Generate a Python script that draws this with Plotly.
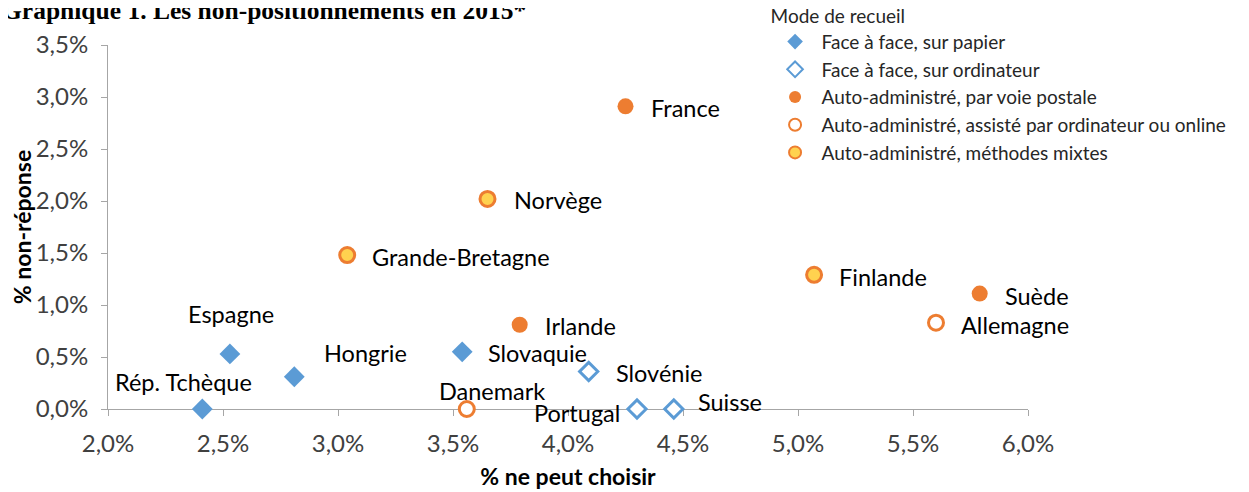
import plotly.graph_objects as go

# ---- data ----
countries = ["France", "Norvège", "Grande-Bretagne", "Finlande", "Suède", "Allemagne",
             "Irlande", "Espagne", "Hongrie", "Slovaquie", "Rép. Tchèque", "Danemark",
             "Slovénie", "Portugal", "Suisse"]
ne_peut_choisir = [4.25, 3.65, 3.04, 5.07, 5.79, 5.60, 3.79, 2.53, 2.81, 3.54, 2.41, 3.56, 4.09, 4.30, 4.46]
non_reponse = [2.91, 2.02, 1.48, 1.29, 1.11, 0.83, 0.81, 0.53, 0.31, 0.55, 0.0, 0.0, 0.36, 0.0, 0.0]
mode = ["postal", "mixte", "mixte", "mixte", "postal", "online", "postal", "papier", "papier",
        "papier", "papier", "online", "ordinateur", "ordinateur", "ordinateur"]

mode_order = ["papier", "ordinateur", "postal", "online", "mixte"]
mode_labels = {
    "papier": "Face à face, sur papier",
    "ordinateur": "Face à face, sur ordinateur",
    "postal": "Auto-administré, par voie postale",
    "online": "Auto-administré, assisté par ordinateur ou online",
    "mixte": "Auto-administré, méthodes mixtes",
}

x_tickvals = [2.0, 2.5, 3.0, 3.5, 4.0, 4.5, 5.0, 5.5, 6.0]
x_ticktext = ["2,0%", "2,5%", "3,0%", "3,5%", "4,0%", "4,5%", "5,0%", "5,5%", "6,0%"]
y_tickvals = [0.0, 0.5, 1.0, 1.5, 2.0, 2.5, 3.0, 3.5]
y_ticktext = ["0,0%", "0,5%", "1,0%", "1,5%", "2,0%", "2,5%", "3,0%", "3,5%"]

# ---- styles ----
BLUE = "#5B9BD5"
ORANGE = "#ED7D31"
YELLOW = "#FFD24F"
FONT = "Lato"

marker_styles = {
    "papier": dict(symbol="diamond", size=16, color=BLUE, line=dict(width=0, color=BLUE)),
    "ordinateur": dict(symbol="diamond", size=14, color="white", line=dict(width=3, color=BLUE)),
    "postal": dict(symbol="circle", size=16, color=ORANGE, line=dict(width=0, color=ORANGE)),
    "online": dict(symbol="circle", size=15, color="white", line=dict(width=3, color=ORANGE)),
    "mixte": dict(symbol="circle", size=15, color=YELLOW, line=dict(width=3, color=ORANGE)),
}

# label placement per country: (xanchor, xshift, yshift)
label_place = {
    "France": ("left", 23, -2),
    "Norvège": ("left", 24, -1),
    "Grande-Bretagne": ("left", 23, -2),
    "Finlande": ("left", 23, -2),
    "Suède": ("left", 23, -2),
    "Allemagne": ("left", 23, -2),
    "Irlande": ("left", 23, -1),
    "Espagne": ("center", 1, 40),
    "Hongrie": ("left", 28, 24),
    "Slovaquie": ("left", 24, -1),
    "Rép. Tchèque": ("center", -19, 27),
    "Danemark": ("center", 25, 18),
    "Slovénie": ("left", 25, -1),
    "Portugal": ("right", -15, -4),
    "Suisse": ("left", 22, 7),
}

fig = go.Figure()
for m in mode_order:
    idx = [i for i, v in enumerate(mode) if v == m]
    fig.add_trace(go.Scatter(
        x=[ne_peut_choisir[i] for i in idx],
        y=[non_reponse[i] for i in idx],
        mode="markers",
        name=mode_labels[m],
        legendgroup=m,
        marker=marker_styles[m],
        cliponaxis=False,
        hovertext=[countries[i] for i in idx],
    ))

annotations = []
for c, xv, yv in zip(countries, ne_peut_choisir, non_reponse):
    xa, xs, ys = label_place[c]
    annotations.append(dict(
        x=xv, y=yv, xref="x", yref="y", text=c, showarrow=False,
        xanchor=xa, yanchor="middle", xshift=xs, yshift=ys,
        font=dict(family=FONT, size=23.5, color="#000000"),
    ))

annotations.append(dict(
    x=0, y=1.0494, xref="paper", yref="paper", xanchor="left", yanchor="bottom",
    text="<b>Graphique 1. Les non-positionnements en 2015*</b>", showarrow=False,
    font=dict(family="Liberation Serif", size=25.5, color="#000000"),
    xshift=-108,
))

fig.update_layout(
    width=1249, height=492,
    margin=dict(l=100, r=229, t=37, b=91, autoexpand=False),
    paper_bgcolor="white", plot_bgcolor="white",
    showlegend=True,
    legend=dict(
        title=dict(text="Mode de recueil", font=dict(family=FONT, size=19, color="#262626")),
        font=dict(family=FONT, size=19, color="#262626"),
        x=0.718, y=1.129, xanchor="left", yanchor="top",
        itemsizing="constant", tracegroupgap=0, itemwidth=43,
        bgcolor="rgba(0,0,0,0)",
    ),
    annotations=annotations,
    xaxis=dict(
        range=[2.0, 6.0], tickvals=x_tickvals, ticktext=x_ticktext,
        showgrid=False, zeroline=False, showline=True, linecolor="#A6A6A6", linewidth=1,
        ticks="outside", ticklen=6, tickcolor="#A6A6A6", ticklabelstandoff=7,
        tickfont=dict(family=FONT, size=24, color="#404040"),
        title=dict(text="<b>% ne peut choisir</b>", font=dict(family=FONT, size=23, color="#000000"), standoff=13),
        layer="below traces", fixedrange=True,
    ),
    yaxis=dict(
        range=[0, 3.5], tickvals=y_tickvals, ticktext=y_ticktext,
        showgrid=False, zeroline=False, showline=True, linecolor="#A6A6A6", linewidth=1,
        ticks="outside", ticklen=6, tickcolor="#A6A6A6", ticklabelstandoff=8,
        tickfont=dict(family=FONT, size=24, color="#404040"),
        title=dict(text="<b>% non-réponse</b>", font=dict(family=FONT, size=23, color="#000000"), standoff=6),
        layer="below traces", fixedrange=True,
    ),
)

fig.write_html("out.html")
